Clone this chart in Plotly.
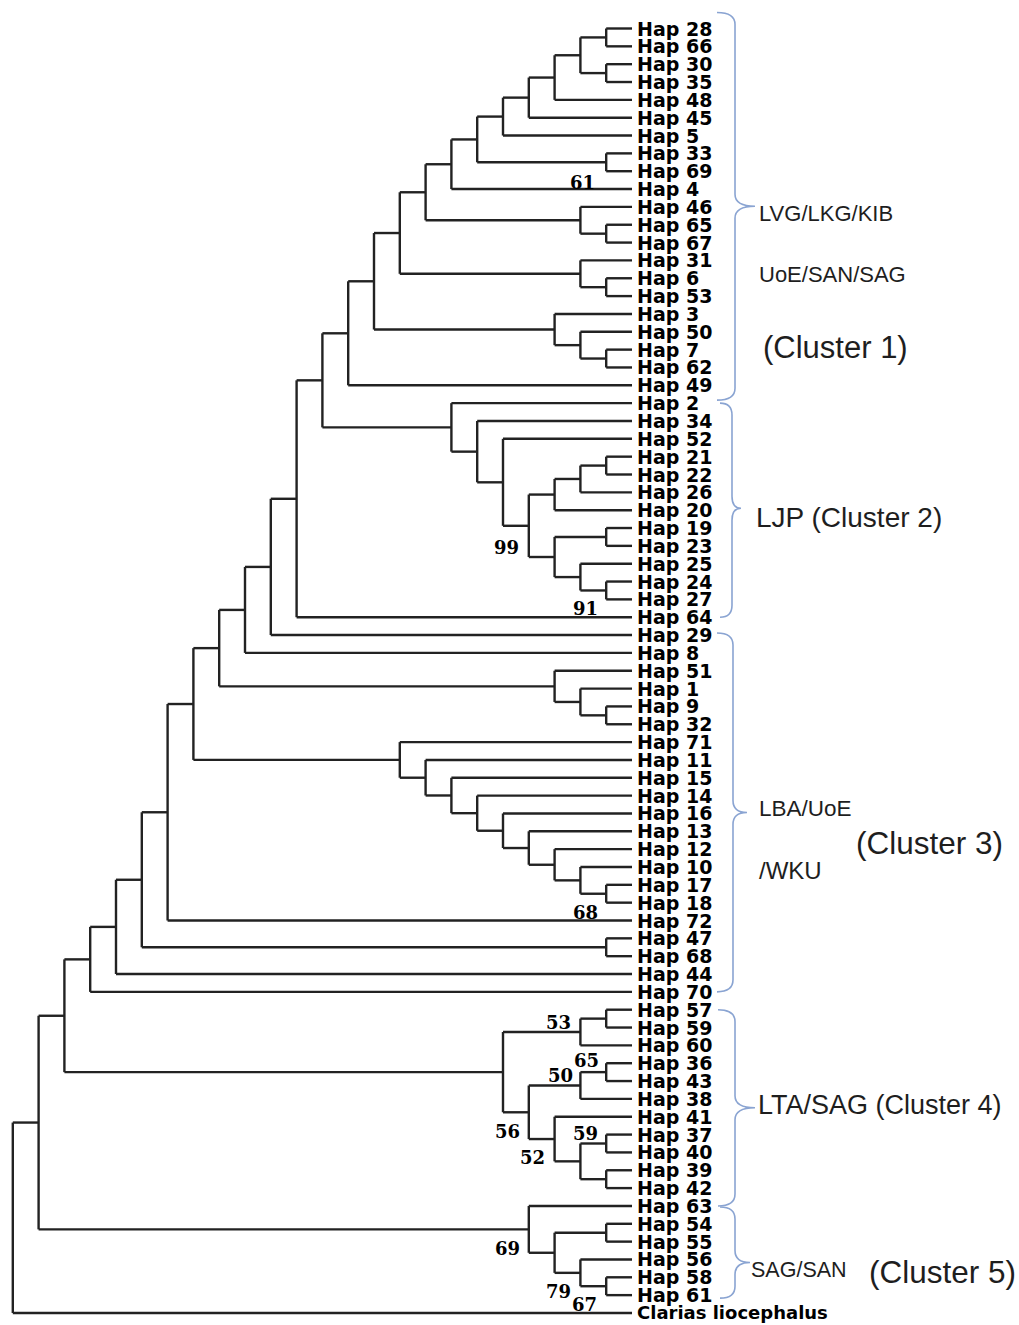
import plotly.graph_objects as go

# ---------------- data ----------------
leaf_labels = [
    "Hap 28", "Hap 66", "Hap 30", "Hap 35", "Hap 48", "Hap 45", "Hap 5", "Hap 33", "Hap 69", "Hap 4",
    "Hap 46", "Hap 65", "Hap 67", "Hap 31", "Hap 6", "Hap 53", "Hap 3", "Hap 50", "Hap 7", "Hap 62",
    "Hap 49", "Hap 2", "Hap 34", "Hap 52", "Hap 21", "Hap 22", "Hap 26", "Hap 20", "Hap 19", "Hap 23",
    "Hap 25", "Hap 24", "Hap 27", "Hap 64", "Hap 29", "Hap 8", "Hap 51", "Hap 1", "Hap 9", "Hap 32",
    "Hap 71", "Hap 11", "Hap 15", "Hap 14", "Hap 16", "Hap 13", "Hap 12", "Hap 10", "Hap 17", "Hap 18",
    "Hap 72", "Hap 47", "Hap 68", "Hap 44", "Hap 70", "Hap 57", "Hap 59", "Hap 60", "Hap 36", "Hap 43",
    "Hap 38", "Hap 41", "Hap 37", "Hap 40", "Hap 39", "Hap 42", "Hap 63", "Hap 54", "Hap 55", "Hap 56",
    "Hap 58", "Hap 61", "Clarias liocephalus",
]

# merges: (node, left child, right child, clustering level counted from the tips)
merges = [
    ("a1", "Hap 28", "Hap 66", 1), ("a2", "Hap 30", "Hap 35", 1), ("a3", "a1", "a2", 2),
    ("a4", "a3", "Hap 48", 3), ("a5", "a4", "Hap 45", 4), ("a6", "a5", "Hap 5", 5),
    ("a7", "Hap 33", "Hap 69", 1), ("a8", "a6", "a7", 6), ("a9", "a8", "Hap 4", 7),
    ("a10", "Hap 65", "Hap 67", 1), ("a11", "Hap 46", "a10", 2), ("a12", "a9", "a11", 8),
    ("a13", "Hap 6", "Hap 53", 1), ("a14", "Hap 31", "a13", 2), ("a15", "a12", "a14", 9),
    ("a16", "Hap 7", "Hap 62", 1), ("a17", "Hap 50", "a16", 2), ("a18", "Hap 3", "a17", 3),
    ("a19", "a15", "a18", 10), ("a20", "a19", "Hap 49", 11),
    ("b1", "Hap 21", "Hap 22", 1), ("b2", "b1", "Hap 26", 2), ("b3", "b2", "Hap 20", 3),
    ("b4", "Hap 19", "Hap 23", 1), ("b5", "Hap 24", "Hap 27", 1), ("b6", "Hap 25", "b5", 2),
    ("b7", "b4", "b6", 3), ("b8", "b3", "b7", 4), ("b9", "Hap 52", "b8", 5),
    ("b10", "Hap 34", "b9", 6), ("b11", "Hap 2", "b10", 7),
    ("r12", "a20", "b11", 12), ("r13", "r12", "Hap 64", 13), ("r14", "r13", "Hap 29", 14),
    ("r15", "r14", "Hap 8", 15),
    ("c1", "Hap 9", "Hap 32", 1), ("c2", "Hap 1", "c1", 2), ("c3", "Hap 51", "c2", 3),
    ("r16", "r15", "c3", 16),
    ("d1", "Hap 17", "Hap 18", 1), ("d2", "Hap 10", "d1", 2), ("d3", "Hap 12", "d2", 3),
    ("d4", "Hap 13", "d3", 4), ("d5", "Hap 16", "d4", 5), ("d6", "Hap 14", "d5", 6),
    ("d7", "Hap 15", "d6", 7), ("d8", "Hap 11", "d7", 8), ("d9", "Hap 71", "d8", 9),
    ("r17", "r16", "d9", 17), ("r18", "r17", "Hap 72", 18),
    ("e1", "Hap 47", "Hap 68", 1), ("r19", "r18", "e1", 19),
    ("r20", "r19", "Hap 44", 20), ("r21", "r20", "Hap 70", 21),
    ("f1", "Hap 57", "Hap 59", 1), ("f2", "f1", "Hap 60", 2),
    ("f3", "Hap 36", "Hap 43", 1), ("f4", "f3", "Hap 38", 2),
    ("f5", "Hap 37", "Hap 40", 1), ("f6", "Hap 39", "Hap 42", 1), ("f7", "f5", "f6", 2),
    ("f8", "Hap 41", "f7", 3), ("f9", "f4", "f8", 4), ("f10", "f2", "f9", 5),
    ("r22", "r21", "f10", 22),
    ("g1", "Hap 54", "Hap 55", 1), ("g2", "Hap 58", "Hap 61", 1), ("g3", "Hap 56", "g2", 2),
    ("g4", "g1", "g3", 3), ("g5", "Hap 63", "g4", 4),
    ("r23", "r22", "g5", 23), ("root", "r23", "Clarias liocephalus", 24),
]

bootstrap_nodes = ["a7", "b8", "b5", "d1", "f2", "f3", "f4", "f9", "f5", "f8", "g5", "g3", "g2"]
bootstrap_values = [61, 99, 91, 68, 53, 65, 50, 56, 59, 52, 69, 79, 67]

cluster_first_leaf = ["Hap 28", "Hap 2", "Hap 29", "Hap 57", "Hap 63"]
cluster_last_leaf = ["Hap 2", "Hap 64", "Hap 70", "Hap 63", "Hap 61"]
cluster_text_lines = [
    "LVG/LKG/KIB", "UoE/SAN/SAG", "(Cluster 1)", "LJP (Cluster 2)",
    "LBA/UoE", "/WKU", "(Cluster 3)", "LTA/SAG (Cluster 4)", "SAG/SAN", "(Cluster 5)",
]

# ---------------- layout constants (pixels) ----------------
W, H = 1019, 1325
TIP_PX = 632.0
LEVEL_PX = 25.8
TOP_PX = 28.5
ROW_PX = 17.84

# bootstrap label offsets (px) relative to their node
boot_dx = [-24, -22, -21, -21, -22, -20, -20, -21, -21, -22, -21, -22, -22]
boot_dy = [20, 22, 18, 19, -10, -12, -10, 19, -10, 18, 19, 19, 18]

# brace geometry (px)
brace_pad_top = [-16, 0, -2, 0, 1]
brace_pad_bot = [-3, 0, 0, 0, 3]
brace_back_x = [735, 732, 733, 735, 735]
brace_end_x = [717, 720, 717, 718, 720]
brace_tip_x = [755, 741, 747, 755, 750]
brace_tip_dy = [0, -2, 0, 0, 10]
BRACE_COLOR = "#8AA4D2"

# cluster text placement: (left px, center y px, font size)
text_left = [757, 757, 761, 754, 757, 757, 854, 756, 749, 867]
text_cy = [213, 275, 347, 517, 808, 870, 843, 1105, 1270, 1272]
text_size = [22, 22, 31, 28, 22.5, 24, 31.5, 27, 21.5, 31.5]

# ---------------- tree coordinates ----------------
pos = {name: (0.0, float(i)) for i, name in enumerate(leaf_labels)}
for node, left, right, level in merges:
    pos[node] = (float(level), (pos[left][1] + pos[right][1]) / 2.0)

xs, ys = [], []
for node, left, right, level in merges:
    nx, _ = pos[node]
    for child in (left, right):
        cx, cy = pos[child]
        xs += [nx, cx, None]
        ys += [cy, cy, None]
    xs += [nx, nx, None]
    ys += [pos[left][1], pos[right][1], None]

fig = go.Figure()
fig.add_trace(go.Scatter(
    x=xs, y=ys, mode="lines",
    line=dict(color="#222222", width=2.4),
    hoverinfo="skip", showlegend=False,
))

annotations = []
for i, name in enumerate(leaf_labels):
    is_out = name.startswith("Clarias")
    annotations.append(dict(
        x=0, y=i, xref="x", yref="y", xanchor="left", yanchor="middle",
        xshift=3, text="<b>%s</b>" % name, showarrow=False,
        font=dict(family="DejaVu Sans", size=18 if is_out else 19, color="#000000"),
    ))

for node, val, dx, dy in zip(bootstrap_nodes, bootstrap_values, boot_dx, boot_dy):
    nx, ny = pos[node]
    annotations.append(dict(
        x=nx, y=ny, xref="x", yref="y", xanchor="center", yanchor="middle",
        xshift=dx, yshift=-dy, text="<b>%d</b>" % val, showarrow=False,
        font=dict(family="DejaVu Serif", size=18, color="#000000"),
    ))

for txt, lx, cy, sz in zip(cluster_text_lines, text_left, text_cy, text_size):
    annotations.append(dict(
        x=lx / W, y=1 - cy / H, xref="paper", yref="paper",
        xanchor="left", yanchor="middle", text=txt, showarrow=False,
        font=dict(family="Liberation Sans", size=sz, color="#1e1e1e"),
    ))


def row_px(i):
    return TOP_PX + ROW_PX * i


def P(x, y):
    return "%.5f,%.5f" % (x / W, 1 - y / H)


shapes = []
for k in range(len(cluster_first_leaf)):
    ty = row_px(leaf_labels.index(cluster_first_leaf[k])) + brace_pad_top[k]
    by = row_px(leaf_labels.index(cluster_last_leaf[k])) + brace_pad_bot[k]
    my = (ty + by) / 2 + brace_tip_dy[k]
    bx, lx, tx = brace_back_x[k], brace_end_x[k], brace_tip_x[k]
    r = 12
    path = ("M " + P(lx, ty) + " Q " + P(bx, ty) + " " + P(bx, ty + r) +
            " L " + P(bx, my - r) + " Q " + P(bx, my) + " " + P(tx, my) +
            " Q " + P(bx, my) + " " + P(bx, my + r) +
            " L " + P(bx, by - r) + " Q " + P(bx, by) + " " + P(lx, by))
    shapes.append(dict(type="path", path=path, xref="paper", yref="paper",
                       line=dict(color=BRACE_COLOR, width=1.6)))

fig.update_layout(
    width=W, height=H,
    margin=dict(l=0, r=0, t=0, b=0),
    paper_bgcolor="white", plot_bgcolor="white",
    xaxis=dict(visible=False, range=[TIP_PX / LEVEL_PX, (TIP_PX - W) / LEVEL_PX], fixedrange=True),
    yaxis=dict(visible=False, range=[(H - TOP_PX) / ROW_PX, -TOP_PX / ROW_PX], fixedrange=True),
    annotations=annotations,
    shapes=shapes,
    showlegend=False,
    hovermode=False,
)

fig.write_html("out.html")
